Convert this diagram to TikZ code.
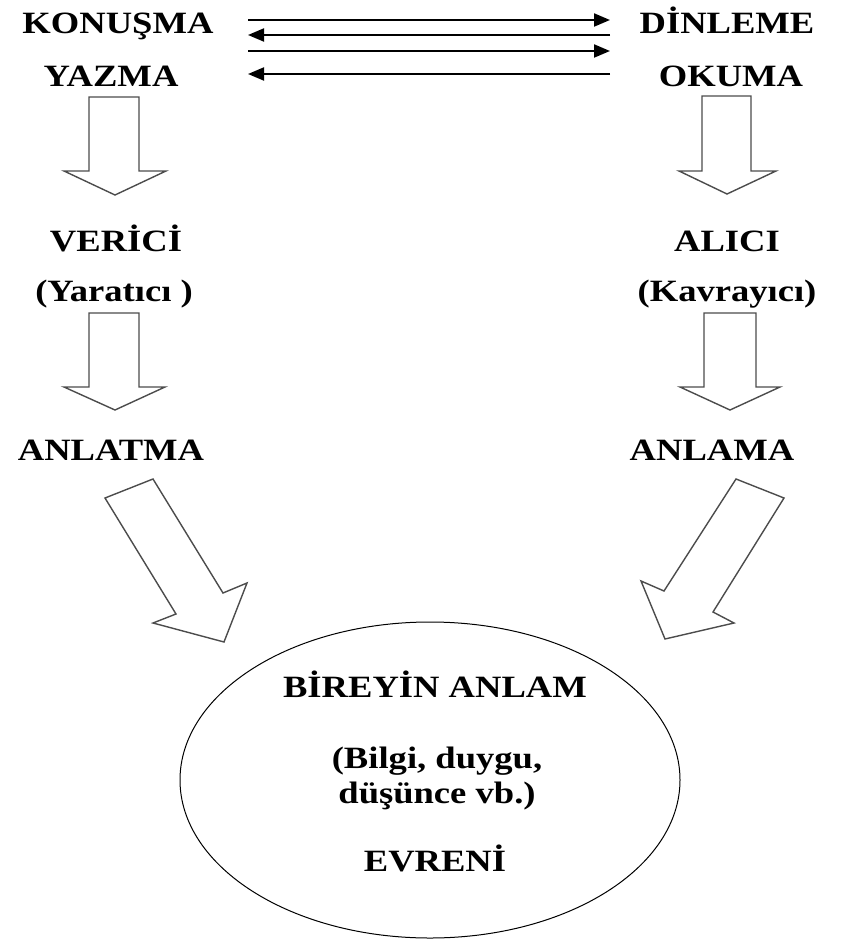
\documentclass[tikz,border=0pt]{standalone}
\usepackage{fontspec}
\setmainfont[FakeStretch=1.18]{Liberation Serif}
\usetikzlibrary{arrows.meta,shapes.geometric}
\begin{document}
\begin{tikzpicture}[x=0.5pt,y=-0.5pt,
  lbl/.style={font=\fontsize{15.5}{18}\selectfont\bfseries, inner sep=0pt, anchor=base},
  blk/.style={draw=black!70, line width=0.7pt, fill=white, line join=miter},
  toparrow/.style={line width=1pt, -{Triangle[length=8pt,width=6.5pt]}}]
\useasboundingbox (0,0) rectangle (846,941);

% text nodes
\node[lbl] (kon) at (118,34) {KONUŞMA};
\node[lbl] (yaz) at (111,87) {YAZMA};
\node[lbl] (din) at (727,34) {DİNLEME};
\node[lbl] (oku) at (731,87) {OKUMA};
\node[lbl] (ver) at (116,251) {VERİCİ};
\node[lbl] (yar) at (114,301) {(Yaratıcı )};
\node[lbl] (ali) at (727,251) {ALICI};
\node[lbl] (kav) at (727,301) {(Kavrayıcı)};
\node[lbl] (anlt) at (111,460) {ANLATMA};
\node[lbl] (anlm) at (712,460) {ANLAMA};

% top arrows
\coordinate (l1) at (248,20); \coordinate (r1) at (610,20);
\coordinate (l2) at (248,35); \coordinate (r2) at (610,35);
\coordinate (l3) at (248,51); \coordinate (r3) at (610,51);
\coordinate (l4) at (248,74); \coordinate (r4) at (610,74);
\draw[toparrow] (l1) -- (r1);
\draw[toparrow] (r2) -- (l2);
\draw[toparrow] (l3) -- (r3);
\draw[toparrow] (r4) -- (l4);

% block arrows
\draw[blk] (89,97) -- (139,97) -- (139,171) -- (166,171) -- (115,195) -- (64,171) -- (89,171) -- cycle;
\draw[blk] (702,96) -- (751,96) -- (751,171) -- (776,171) -- (727,194) -- (679,171) -- (702,171) -- cycle;
\draw[blk] (89,313) -- (139,313) -- (139,387) -- (165,387) -- (115,410) -- (64,387) -- (89,387) -- cycle;
\draw[blk] (704,313) -- (756,313) -- (756,387) -- (780,387) -- (730,410) -- (680,387) -- (704,387) -- cycle;
\draw[blk] (105,498) -- (153,479) -- (223,593) -- (247,583) -- (224,642) -- (153,623) -- (176,614) -- cycle;
\draw[blk] (736,479) -- (784,498) -- (713,612) -- (734,623) -- (665,639) -- (641,581) -- (664,591) -- cycle;

% ellipse
\node[draw, ellipse, line width=0.5pt, inner sep=0pt, minimum width=250pt, minimum height=158pt] (evren) at (430,780) {};
\node[lbl] (e1) at (435,697) {BİREYİN ANLAM};
\node[lbl] (e2) at (437,768) {(Bilgi, duygu,};
\node[lbl] (e3) at (437,803) {düşünce vb.)};
\node[lbl] (e4) at (435,871) {EVRENİ};
\end{tikzpicture}
\end{document}
